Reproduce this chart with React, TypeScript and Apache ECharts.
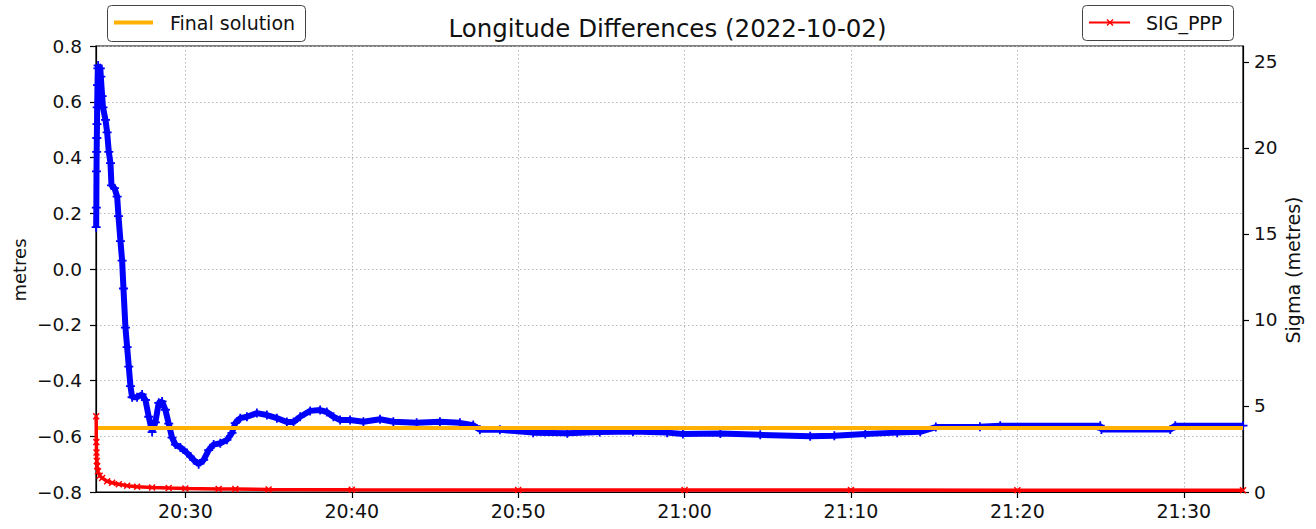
import { useEffect, useRef } from 'react';
import * as echarts from 'echarts';

// x values are minutes after 20:00 on 2022-10-02
const TITLE = 'Longitude Differences (2022-10-02)';
const X_MIN = 24.63;
const X_MAX = 93.56;
const X_TICKS = [30, 40, 50, 60, 70, 80, 90];
const LEFT_TICKS = [-0.8, -0.6, -0.4, -0.2, 0, 0.2, 0.4, 0.6, 0.8];
const RIGHT_MAX = 25.93;
const RIGHT_TICKS = [0, 5, 10, 15, 20, 25];
const FINAL_SOLUTION = -0.57;

// Longitude difference (metres), blue "+" series
const LON_DIFF: [number, number][] = [
  [24.64, 0.15], [24.65, 0.22], [24.66, 0.35], [24.67, 0.42], [24.68, 0.47],
  [24.69, 0.52], [24.7, 0.58], [24.72, 0.66], [24.74, 0.72], [24.76, 0.73],
  [24.89, 0.72], [24.92, 0.69], [25.0, 0.62], [25.05, 0.58], [25.2, 0.535],
  [25.3, 0.49], [25.4, 0.42], [25.5, 0.38], [25.56, 0.3], [25.74, 0.29],
  [25.9, 0.26], [25.98, 0.19], [26.1, 0.1], [26.2, 0.03], [26.28, -0.07],
  [26.4, -0.21], [26.5, -0.28], [26.6, -0.35], [26.7, -0.42], [26.8, -0.46],
  [27.1, -0.46], [27.4, -0.45], [27.6, -0.47], [27.8, -0.53], [28.0, -0.585],
  [28.2, -0.55], [28.4, -0.48], [28.6, -0.475], [28.8, -0.505], [29.0, -0.555],
  [29.2, -0.605], [29.4, -0.63], [29.7, -0.64], [30.1, -0.66], [30.5, -0.685],
  [30.8, -0.7], [31.1, -0.685], [31.4, -0.65], [31.7, -0.63], [32.1, -0.625],
  [32.5, -0.613], [32.8, -0.588], [33.0, -0.553], [33.3, -0.535], [33.7, -0.53],
  [34.3, -0.517], [34.9, -0.524], [35.5, -0.535], [36.1, -0.549], [36.5, -0.549],
  [36.9, -0.53], [37.5, -0.509], [38.1, -0.506], [38.5, -0.513], [38.9, -0.53],
  [39.3, -0.542], [39.9, -0.542], [40.7, -0.548], [41.7, -0.539], [42.5, -0.548],
  [43.9, -0.552], [45.3, -0.548], [46.5, -0.552], [47.3, -0.56], [47.7, -0.577],
  [48.9, -0.577], [50.9, -0.587], [52.95, -0.589], [54.9, -0.585], [56.9, -0.583],
  [58.95, -0.587], [59.9, -0.592], [62.15, -0.59], [64.55, -0.595], [67.55, -0.6],
  [69.0, -0.598], [70.86, -0.592], [72.78, -0.587], [74.16, -0.584], [75.1, -0.567],
  [77.75, -0.566], [78.97, -0.562], [84.98, -0.562], [85.05, -0.576], [89.19, -0.576],
  [89.49, -0.562], [93.56, -0.562],
];

// SIG_PPP sigma (metres), red "x" series on right axis
const SIG_PPP: [number, number][] = [
  [24.64, 4.4], [24.65, 2.9], [24.66, 2.3], [24.68, 1.8], [24.7, 1.5],
  [24.75, 1.2], [24.85, 0.95], [25.0, 0.81], [25.3, 0.62], [25.6, 0.54],
  [26.0, 0.45], [26.5, 0.37], [27.1, 0.31], [28.0, 0.26], [29.0, 0.23],
  [30.0, 0.21], [32.0, 0.18], [33.0, 0.17], [35.0, 0.15], [40.0, 0.13],
  [50.0, 0.12], [60.0, 0.11], [70.0, 0.11], [80.0, 0.1], [93.56, 0.1],
];

const FONT = 'DejaVu Sans';
const PLUS = 'path://M4,0H6V4H10V6H6V10H4V6H0V4H4Z';
const CROSS = 'path://M0,1.5L1.5,0L5,3.5L8.5,0L10,1.5L6.5,5L10,8.5L8.5,10L5,6.5L1.5,10L0,8.5L3.5,5Z';

const near = (v: number, step: number) => Math.abs(v / step - Math.round(v / step)) < 1e-6;
const fmtTime = (v: number) => {
  if (!near(v, 10)) return '';
  const m = Math.round(v);
  const h = 20 + Math.floor(m / 60);
  return `${h}:${String(m % 60).padStart(2, '0')}`;
};
const fmtLeft = (v: number) => {
  if (!near(v, 0.2)) return '';
  const s = (Math.abs(v) < 1e-9 ? 0 : v).toFixed(1);
  return s.replace('-', '\u2212');
};
const fmtRight = (v: number) => (near(v, 5) ? String(Math.round(v)) : '');

export default function App() {
  const ref = useRef<HTMLDivElement>(null);
  useEffect(() => {
    if (!ref.current) return;
    const chart = echarts.init(ref.current, undefined, { renderer: 'svg' });
    const axisLine = { show: true, onZero: false, lineStyle: { color: '#000', width: 1.2 } };
    const tickStyle = { color: '#000', width: 1.2 };
    const labelStyle = { fontFamily: FONT, fontSize: 19, color: '#111' };
    const grid = { type: [1.5, 2.5], color: '#b8b8b8', width: 1 };
    chart.setOption({
      animation: false,
      textStyle: { fontFamily: FONT },
      grid: { left: 96, right: 73, top: 46, bottom: 37, show: true, borderColor: '#000', borderWidth: 1.2 },
      xAxis: {
        type: 'value', min: X_MIN, max: X_MAX, minInterval: 10, maxInterval: 10,
        axisLine,
        axisTick: { show: true, length: 6, lineStyle: tickStyle, customValues: X_TICKS },
        axisLabel: { ...labelStyle, margin: 9, formatter: fmtTime, customValues: X_TICKS },
        splitLine: { show: true, lineStyle: grid },
      },
      yAxis: [
        {
          type: 'value', position: 'left', min: -0.8, max: 0.8, interval: 0.2,
          axisLine,
          axisTick: { show: true, length: 6, lineStyle: tickStyle, customValues: LEFT_TICKS },
          axisLabel: { ...labelStyle, fontSize: 18.5, margin: 14, formatter: fmtLeft, customValues: LEFT_TICKS },
          splitLine: { show: true, lineStyle: grid },
        },
        {
          type: 'value', position: 'right', min: 0, max: RIGHT_MAX, interval: 5,
          axisLine,
          axisTick: { show: true, length: 6, lineStyle: tickStyle, customValues: RIGHT_TICKS },
          axisLabel: { ...labelStyle, fontSize: 18.5, margin: 11, formatter: fmtRight, customValues: RIGHT_TICKS },
          splitLine: { show: false },
        },
      ],
      series: [
        {
          name: 'LON_DIFF', type: 'line', yAxisIndex: 0, data: LON_DIFF,
          symbol: PLUS, symbolSize: 9, showAllSymbol: true,
          itemStyle: { color: '#0000ff', borderWidth: 0 },
          lineStyle: { color: '#0000ff', width: 6 }, z: 2,
        },
        {
          name: 'Final solution', type: 'line', yAxisIndex: 0,
          data: [[X_MIN, FINAL_SOLUTION], [X_MAX, FINAL_SOLUTION]],
          symbol: 'none', lineStyle: { color: '#FFB000', width: 4 }, z: 3,
        },
        {
          name: 'SIG_PPP', type: 'line', yAxisIndex: 1, data: SIG_PPP,
          symbol: CROSS, symbolSize: 7, showAllSymbol: true,
          itemStyle: { color: '#ff0000', borderWidth: 0 },
          lineStyle: { color: '#ff0000', width: 3.5 }, z: 4,
        },
      ],
      graphic: [
        {
          type: 'text', x: 667.5, y: 28, z: 100,
          style: { text: TITLE, fontFamily: FONT, fontSize: 24.5, fill: '#111', align: 'center', verticalAlign: 'middle' },
        },
        {
          type: 'text', x: 19, y: 270, rotation: Math.PI / 2, z: 100,
          style: { text: 'metres', fontFamily: FONT, fontSize: 18, fill: '#111', align: 'center', verticalAlign: 'middle' },
        },
        {
          type: 'text', x: 1293, y: 270, rotation: Math.PI / 2, z: 100,
          style: { text: 'Sigma (metres)', fontFamily: FONT, fontSize: 19, fill: '#111', align: 'center', verticalAlign: 'middle' },
        },
        {
          type: 'rect', z: 100, shape: { x: 107.5, y: 5.5, width: 198, height: 36, r: 4 },
          style: { fill: 'rgba(255,255,255,0.85)', stroke: '#444', lineWidth: 1 },
        },
        {
          type: 'line', z: 101, shape: { x1: 114, y1: 22.5, x2: 153, y2: 22.5 },
          style: { stroke: '#FFB000', lineWidth: 4 },
        },
        {
          type: 'text', x: 170, y: 22.5, z: 101,
          style: { text: 'Final solution', fontFamily: FONT, fontSize: 19, fill: '#111', align: 'left', verticalAlign: 'middle' },
        },
        {
          type: 'rect', z: 100, shape: { x: 1082.5, y: 5.5, width: 151, height: 35, r: 4 },
          style: { fill: 'rgba(255,255,255,0.85)', stroke: '#444', lineWidth: 1 },
        },
        {
          type: 'line', z: 101, shape: { x1: 1089, y1: 22.5, x2: 1130, y2: 22.5 },
          style: { stroke: '#ff0000', lineWidth: 2 },
        },
        {
          type: 'line', z: 101, shape: { x1: 1107, y1: 19.5, x2: 1113, y2: 25.5 },
          style: { stroke: '#ff0000', lineWidth: 1.5 },
        },
        {
          type: 'line', z: 101, shape: { x1: 1107, y1: 25.5, x2: 1113, y2: 19.5 },
          style: { stroke: '#ff0000', lineWidth: 1.5 },
        },
        {
          type: 'text', x: 1146, y: 22.5, z: 101,
          style: { text: 'SIG_PPP', fontFamily: FONT, fontSize: 19, fill: '#111', align: 'left', verticalAlign: 'middle' },
        },
      ],
    });
    return () => chart.dispose();
  }, []);
  return (
    <div
      ref={ref}
      style={{ position: 'fixed', left: 0, top: 0, width: 1316, height: 529, background: '#fff' }}
    />
  );
}
